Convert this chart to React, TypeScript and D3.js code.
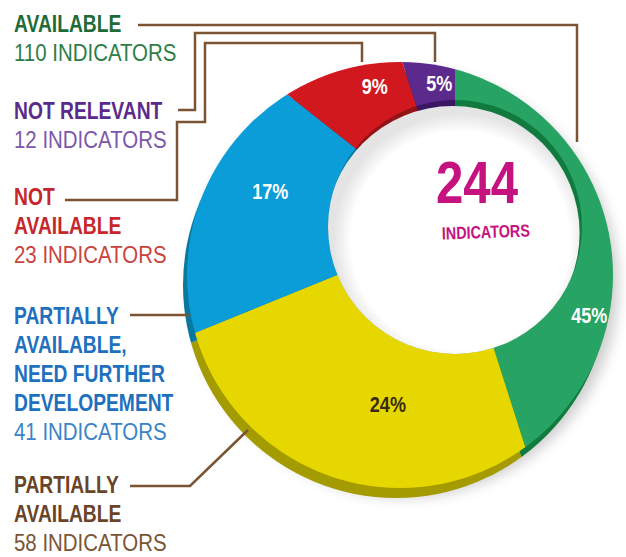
import React from 'react';
import * as d3 from 'd3';

// slices in clockwise order from 12 o'clock
const sliceNames = ['Available', 'Partially available', 'Partially available, need further developement', 'Not available', 'Not relevant'];
const indicatorCounts = [110, 58, 41, 23, 12];
const percentLabels = ['45%', '24%', '17%', '9%', '5%'];
const legendTitles = [
  ['AVAILABLE'],
  ['PARTIALLY', 'AVAILABLE'],
  ['PARTIALLY', 'AVAILABLE,', 'NEED FURTHER', 'DEVELOPEMENT'],
  ['NOT', 'AVAILABLE'],
  ['NOT RELEVANT'],
];
const countSuffix = 'INDICATORS';

const W = 626;
const H = 557;

const faceColors = ['#27a363', '#e6d700', '#0a9dd8', '#d2181f', '#5c2a8d'];
const wallColors = ['#117a3e', '#a39b00', '#08789f', '#931216', '#3a1763'];
const titleColors = ['#1f6b37', '#6a4426', '#2170be', '#c6262c', '#5b2b8c'];
const countColors = ['#2e7d47', '#7a5433', '#3a83c9', '#c9433d', '#7c56aa'];
const percentColors = ['#ffffff', '#3a2a12', '#ffffff', '#ffffff', '#ffffff'];
// where the % label sits: fraction along the slice, fraction across the ring
const labelAlong = [0.76, 0.45, 0.55, 0.65, 0.65];
const labelAcross = [0.62, 0.42, 0.5, 0.6, 0.5];

const hole = { x: 455, y: 227, r: 127 };
const outer = { x: 400, y: 275, r: 213 };
const wall = { dx: -4, dy: 10 };

const legendX = 14;
const legendTop = [32, 493, 324, 205, 119];
const lineStep = 29;
const leaders: [number, number][][] = [
  [[138, 25], [577, 25], [577, 142]],
  [[130, 486], [190, 486], [248, 430]],
  [[130, 315], [190, 315]],
  [[65, 200], [177, 200], [177, 122], [205, 122], [205, 43], [362, 43], [362, 62]],
  [[178, 110], [195, 110], [195, 33], [435, 33], [435, 62]],
];

const FONT = '"Liberation Sans", Arial, sans-serif';

function Narrow({ x, y, size, bold = true, fill, anchor = 'start', squeeze, rotate = 0, children }: any) {
  const sx = squeeze ?? (bold ? 0.82 : 0.87);
  return (
    <g transform={`translate(${x},${y}) rotate(${rotate}) scale(${sx},1)`}>
      <text x={0} y={0} fontFamily={FONT} fontWeight={bold ? 700 : 400} fontSize={size} fill={fill} textAnchor={anchor}>
        {children}
      </text>
    </g>
  );
}

export default function App() {
  const pie = d3.pie<number>().sort(null).value(d => d);
  const slices = pie(indicatorCounts);
  const bigArc = d3.arc<d3.PieArcDatum<number>>().innerRadius(0).outerRadius(440);
  const total = d3.sum(indicatorCounts);
  const line = d3.line();

  // distance from hole centre to the outer rim along angle a
  const rimDist = (a: number) => {
    const ux = Math.sin(a), uy = -Math.cos(a);
    const dx = hole.x - outer.x, dy = hole.y - outer.y;
    const b = dx * ux + dy * uy;
    return -b + Math.sqrt(b * b - (dx * dx + dy * dy) + outer.r * outer.r);
  };

  const labelPos = slices.map((s, i) => {
    const a = s.startAngle + (s.endAngle - s.startAngle) * labelAlong[i];
    const t = hole.r + (rimDist(a) - hole.r) * labelAcross[i];
    return [hole.x + Math.sin(a) * t, hole.y - Math.cos(a) * t];
  });

  return (
    <svg width={W} height={H} style={{ position: 'absolute', left: 0, top: 0, background: '#fff' }}>
      <defs>
        <clipPath id="outerClip"><circle cx={outer.x} cy={outer.y} r={outer.r} /></clipPath>
        <clipPath id="wallClip"><circle cx={outer.x + wall.dx} cy={outer.y + wall.dy} r={outer.r} /></clipPath>
        <clipPath id="holeClip"><circle cx={hole.x} cy={hole.y} r={hole.r} /></clipPath>
        <filter id="soft" x="-20%" y="-20%" width="140%" height="140%">
          <feGaussianBlur stdDeviation="7" />
        </filter>
        <radialGradient id="holeFill" cx="0.53" cy="0.53" r="0.5">
          <stop offset="0.86" stopColor="#ffffff" />
          <stop offset="1" stopColor="#e4e4e4" />
        </radialGradient>
      </defs>

      {/* soft drop shadow */}
      <circle cx={outer.x + 5} cy={outer.y + 9} r={outer.r} fill="#000" opacity={0.2} filter="url(#soft)" />

      {/* outer wall */}
      <g clipPath="url(#wallClip)">
        <g transform={`translate(${hole.x + wall.dx},${hole.y + wall.dy})`}>
          {slices.map((s, i) => <path key={i} d={bigArc(s) as string} fill={wallColors[i]} />)}
        </g>
      </g>

      {/* top face */}
      <g clipPath="url(#outerClip)">
        <g transform={`translate(${hole.x},${hole.y})`}>
          {slices.map((s, i) => (
            <path key={i} d={bigArc(s) as string} fill={faceColors[i]}>
              <title>{sliceNames[i]}</title>
            </path>
          ))}
        </g>
      </g>

      {/* hole with inner wall */}
      <g clipPath="url(#holeClip)">
        <g transform={`translate(${hole.x},${hole.y})`}>
          {slices.map((s, i) => <path key={i} d={bigArc(s) as string} fill={wallColors[i]} />)}
        </g>
        <circle cx={hole.x + wall.dx * 0.6} cy={hole.y + wall.dy * 0.6} r={hole.r} fill="url(#holeFill)" />
      </g>

      {/* percentages */}
      {slices.map((s, i) => (
        <Narrow key={i} x={labelPos[i][0]} y={labelPos[i][1] + 8} size={22} fill={percentColors[i]} anchor="middle">
          {percentLabels[i]}
        </Narrow>
      ))}

      {/* centre total */}
      <Narrow x={477} y={203} size={60} fill="#c5127e" anchor="middle">{total}</Narrow>
      <Narrow x={486} y={238} size={17.5} fill="#c5127e" anchor="middle" rotate={-2}>{countSuffix}</Narrow>

      {/* leaders */}
      {leaders.map((pts, i) => (
        <path key={i} d={line(pts) as string} fill="none" stroke="#7b5533" strokeWidth={2.5} />
      ))}

      {/* legend */}
      {legendTitles.map((lines, i) => (
        <g key={i}>
          {lines.map((t, k) => (
            <Narrow key={k} x={legendX} y={legendTop[i] + k * lineStep} size={23.5} fill={titleColors[i]}>{t}</Narrow>
          ))}
          <Narrow x={legendX} y={legendTop[i] + lines.length * lineStep} size={23.5} bold={false} fill={countColors[i]}>
            {`${indicatorCounts[i]} ${countSuffix}`}
          </Narrow>
        </g>
      ))}
    </svg>
  );
}
